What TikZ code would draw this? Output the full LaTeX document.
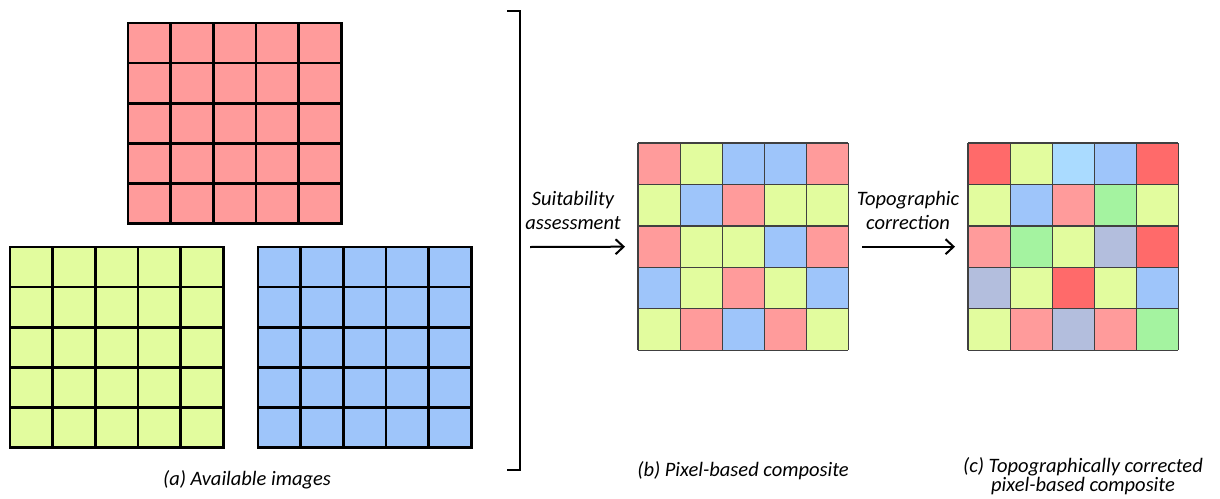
\documentclass[tikz,border=0pt]{standalone}
\usepackage{fontspec}
\setmainfont{Carlito}
\usetikzlibrary{arrows.meta,calc}
\definecolor{pR}{HTML}{FF9B9B}
\definecolor{pG}{HTML}{E2FC9E}
\definecolor{pB}{HTML}{9EC5FA}
\definecolor{dR}{HTML}{FF6A6A}
\definecolor{lB}{HTML}{AADBFF}
\definecolor{gN}{HTML}{A4F3A0}
\definecolor{gY}{HTML}{B3BEDD}
\tikzset{
  box/.style={draw=none, inner sep=0pt, minimum width=213pt, minimum height=200pt, anchor=north west},
  cbox/.style={draw=none, inner sep=0pt, minimum width=210pt, minimum height=207pt, anchor=north west},
  thickline/.style={line width=2.8pt, black},
  thinline/.style={line width=1.1pt, black!75},
  caption/.style={font=\itshape\fontsize{20.5}{24}\selectfont, align=center},
  flow/.style={-{Straight Barb[length=8pt,width=15pt,line width=2pt]}, line width=2pt}
}
\begin{document}
\begin{tikzpicture}[x=1pt,y=-1pt]
\useasboundingbox (0,0) rectangle (1220,498);

% three input images
\node[box, fill=pR] (red) at (128,23) {};
\node[box, fill=pG] (green) at (10,247) {};
\node[box, fill=pB] (blue) at (258,247) {};
\foreach \g in {red,green,blue}{
  \foreach \i in {0,...,5}{
    \draw[thickline, line cap=rect] ($(\g.north west)!\i/5!(\g.north east)$) -- ($(\g.south west)!\i/5!(\g.south east)$);
    \draw[thickline, line cap=rect] ($(\g.north west)!\i/5!(\g.south west)$) -- ($(\g.north east)!\i/5!(\g.south east)$);
  }
}

% bracket grouping the inputs
\coordinate (bt) at (507,11);
\coordinate (bb) at (507,470);
\draw[line width=1.8pt] (bt) -- ++(13,0) |- (bb);
\coordinate (bm) at (520,247);

% pixel-based composite
\node[cbox] (comp) at (638,143) {};
\foreach \row [count=\r from 0] in {{pR,pG,pB,pB,pR},{pG,pB,pR,pG,pG},{pR,pG,pG,pB,pR},{pB,pG,pR,pG,pB},{pG,pR,pB,pR,pG}}{
  \foreach \c [count=\k from 0] in \row{
    \fill[\c] (638+\k*42,143+\r*41.4) rectangle ++(42,41.4);
  }
}
% topographically corrected composite
\node[cbox] (topo) at (968,143) {};
\foreach \row [count=\r from 0] in {{dR,pG,lB,pB,dR},{pG,pB,pR,gN,pG},{pR,gN,pG,gY,dR},{gY,pG,dR,pG,pB},{pG,pR,gY,pR,gN}}{
  \foreach \c [count=\k from 0] in \row{
    \fill[\c] (968+\k*42,143+\r*41.4) rectangle ++(42,41.4);
  }
}
\foreach \g in {comp,topo}{
  \foreach \i in {0,...,5}{
    \draw[thinline] ($(\g.north west)!\i/5!(\g.north east)$) -- ($(\g.south west)!\i/5!(\g.south east)$);
    \draw[thinline] ($(\g.north west)!\i/5!(\g.south west)$) -- ($(\g.north east)!\i/5!(\g.south east)$);
  }
}

% processing steps
\draw[flow] (bm) ++(10,0) coordinate (a1) -- ([xshift=-13pt]comp.west);
\node[caption] (s1) at (573,210) {Suitability\\assessment};
\draw[flow] ([xshift=14pt]comp.east) -- ([xshift=-13pt]topo.west);
\node[caption] (s2) at (908,210) {Topographic\\correction};

% captions
\node[caption] (ca) at (247,480) {(a) Available images};
\node[caption] (cb) at (743,471) {(b) Pixel-based composite};
\node[caption, font=\itshape\fontsize{20.5}{19.5}\selectfont] (cc) at (1083,476) {(c) Topographically corrected\\pixel-based composite};
\end{tikzpicture}
\end{document}
